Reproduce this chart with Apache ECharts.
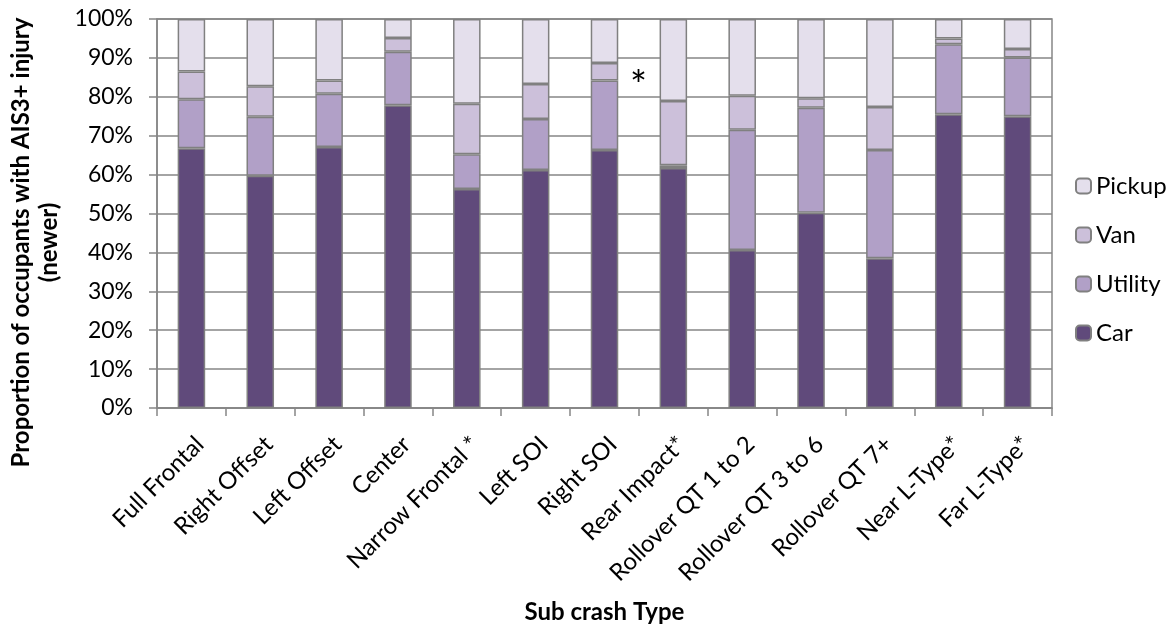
<!DOCTYPE html>
<html><head><meta charset="utf-8">
<script src="https://cdn.jsdelivr.net/npm/echarts@6/dist/echarts.min.js"></script>
<style>html,body{margin:0;padding:0;background:#fff}#c{width:1173px;height:629px}</style>
</head><body><div id="c"></div>
<script>
const categories = ['Full Frontal','Right Offset','Left Offset','Center','Narrow Frontal *','Left SOI','Right SOI','Rear Impact*','Rollover QT 1 to 2','Rollover QT 3 to 6','Rollover QT 7+','Near L-Type*','Far L-Type*'];
const car     = [66.8, 59.7, 67.1, 77.8, 56.3, 61.2, 66.3, 61.7, 40.6, 50.2, 38.5, 75.5, 75.0];
const utility = [12.6, 15.2, 13.7, 13.8,  8.9, 13.1, 17.9,  0.7, 30.9, 27.0, 27.8, 18.0, 15.1];
const van     = [ 7.1,  7.8,  3.4,  3.5, 13.0,  9.0,  4.5, 16.5,  8.8,  2.4, 11.1,  1.5,  2.2];
const pickup  = [13.5, 17.3, 15.8,  4.9, 21.8, 16.7, 11.3, 21.1, 19.7, 20.4, 22.6,  5.0,  7.7];
const yTicks  = [0,10,20,30,40,50,60,70,80,90,100];

const FONT = 'Lato, "Open Sans", sans-serif';
const GRAY = '#868686';
const chart = echarts.init(document.getElementById('c'));
function s(name, data, color){
  return {name, type:'bar', stack:'all', data, barWidth:'40%',
    itemStyle:{color, borderColor:'#808080', borderWidth:1.5}, emphasis:{disabled:true}};
}
chart.setOption({
  animation:false,
  textStyle:{fontFamily:FONT},
  grid:{left:157, right:121, top:19, bottom:221, show:true, borderColor:GRAY, borderWidth:1.5,
        backgroundColor:'transparent', containLabel:false, outerBoundsMode:'none'},
  legend:{
    data:['Pickup','Van','Utility','Car'], orient:'vertical', left:1070, top:169,
    itemWidth:15, itemHeight:15, itemGap:25,
    textStyle:{fontFamily:FONT, fontSize:24, color:'#000', lineHeight:24}
  },
  xAxis:{
    type:'category', data:categories,
    axisLine:{lineStyle:{color:GRAY, width:1.5}},
    axisTick:{show:true, length:8, lineStyle:{color:GRAY, width:1.5}},
    axisLabel:{rotate:45, fontSize:24, color:'#000', fontFamily:FONT, margin:24, interval:0, verticalAlign:'top'},
    splitLine:{show:false},
    name:'Sub crash Type', nameLocation:'middle', nameGap:192,
    nameTextStyle:{fontSize:24, fontWeight:'bold', color:'#000', fontFamily:FONT}
  },
  yAxis:{
    type:'value', min:yTicks[0], max:yTicks[yTicks.length-1], interval:10,
    axisLine:{show:true, lineStyle:{color:GRAY, width:1.5}},
    axisTick:{show:true, length:8, lineStyle:{color:GRAY, width:1.5}},
    axisLabel:{formatter:'{value}%', fontSize:23, color:'#000', fontFamily:FONT, margin:24},
    splitLine:{lineStyle:{color:GRAY, width:1.5}},
    name:'Proportion of occupants with AIS3+ injury\n(newer)', nameLocation:'middle', nameGap:90,
    nameTextStyle:{fontSize:24, fontWeight:'bold', color:'#000', fontFamily:FONT, lineHeight:28, padding:[0,58,0,0]}
  },
  graphic:[{type:'text', left:630, top:67, style:{text:'*', fontSize:40, fill:'#000', fontFamily:FONT}}],
  series:[s('Car',car,'#604a7b'), s('Utility',utility,'#b1a0c7'), s('Van',van,'#ccc0da'), s('Pickup',pickup,'#e4dfec')]
});
</script></body></html>
